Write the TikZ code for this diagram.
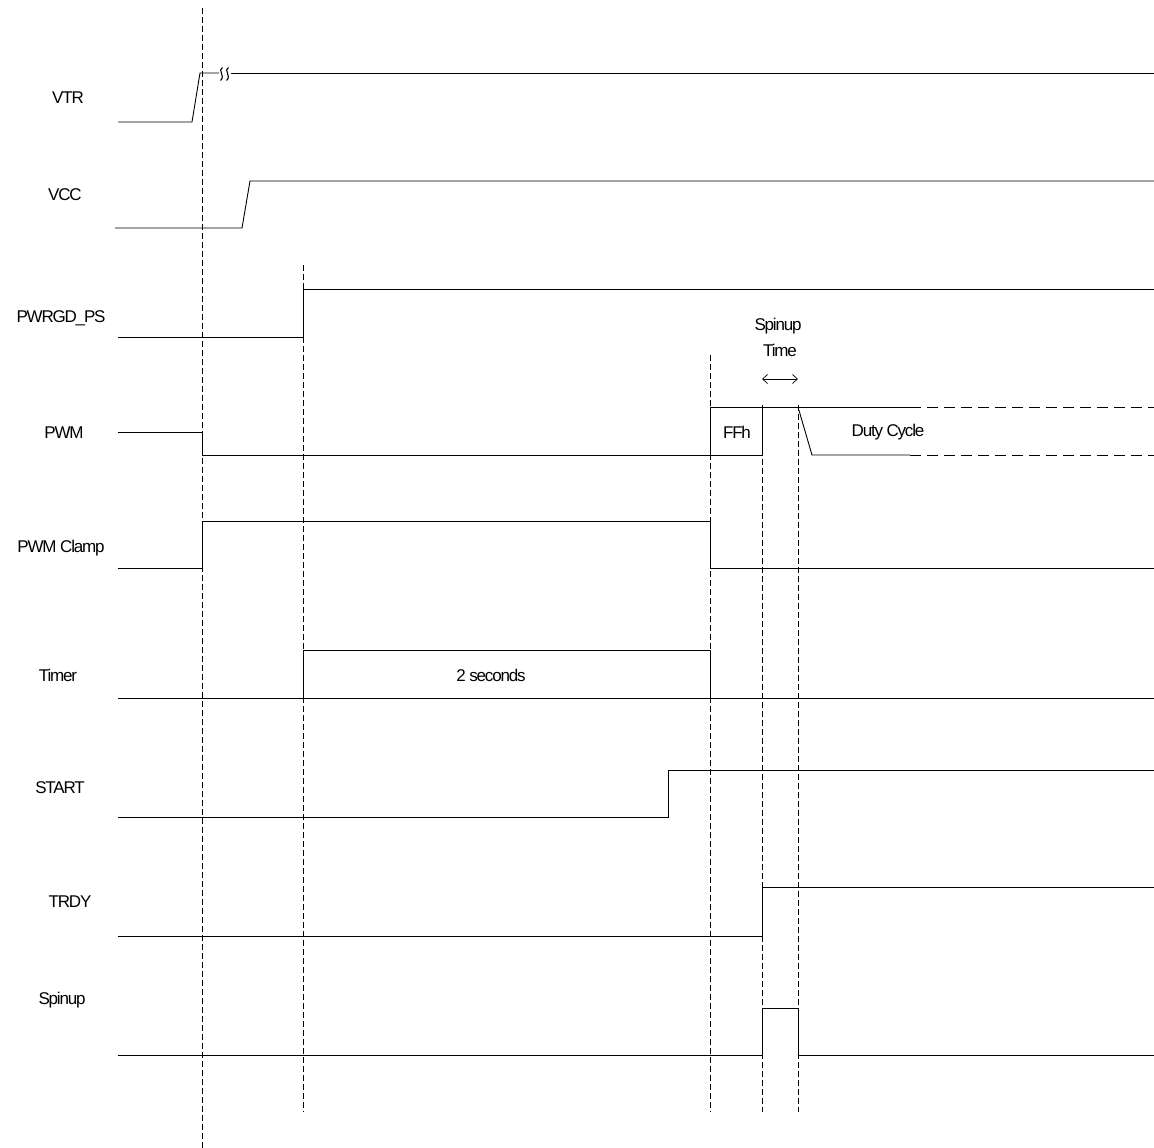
\documentclass[tikz,border=0pt]{standalone}
\usepackage{fontspec}
\setmainfont{Liberation Sans}[LetterSpace=-7]
\usetikzlibrary{arrows.meta}
\begin{document}
\begin{tikzpicture}[x=1pt,y=-1pt,
  sig/.style={line width=0.9pt,black},
  guide/.style={line width=0.7pt,black,dash pattern=on 6pt off 3pt},
  dashsig/.style={line width=0.9pt,black,dash pattern=on 11pt off 6pt},
  lbl/.style={font=\fontsize{17}{19}\selectfont,inner sep=0pt},
  ann/.style={font=\fontsize{17}{19}\selectfont,inner sep=0pt}]
\useasboundingbox (0,0) rectangle (1154,1148);
% guides
\draw[guide] (202,8) -- (202,1148);
\draw[guide] (303,265) -- (303,1112);
\draw[guide] (710,355) -- (710,1112);
\draw[guide] (762,405) -- (762,1112);
\draw[guide] (798,405) -- (798,1112);
% labels
\node[lbl] (lVTR) at (68,98) {VTR};
\node[lbl] (lVCC) at (65,195) {VCC};
\node[lbl] (lPWRGD) at (61,318) {PWRGD\_PS};
\node[lbl] (lPWM) at (64,433) {PWM};
\node[lbl] (lClamp) at (61,548) {PWM Clamp};
\node[lbl] (lTimer) at (58,675) {Timer};
\node[lbl] (lSTART) at (60,788) {START};
\node[lbl] (lTRDY) at (70,902) {TRDY};
\node[lbl] (lSpinup) at (62,1000) {Spinup};
% VTR
\draw[sig] (118,122) -- (192,122) -- (200,73) -- (219,73);
\draw[sig] (231,73) -- (1154,73);
\foreach \sx in {221,227}{
  \draw[sig,line width=1.1pt] (\sx+1.5,67.5) .. controls (\sx-4,70) and (\sx+5,76) .. (\sx-0.5,80.5);
}
% VCC
\draw[sig] (115,228) -- (242,228) -- (250,181) -- (1154,181);
% PWRGD_PS
\draw[sig] (118,337) -- (303,337) -- (303,289) -- (1154,289);
% PWM
\draw[sig] (118,432) -- (202,432) -- (202,455) -- (710,455) -- (710,407) -- (910,407);
\draw[sig] (710,455) -- (762,455) -- (762,407);
\draw[sig] (798,407) -- (812,455) -- (910,455);
\draw[dashsig] (910,407) -- (1154,407);
\draw[dashsig] (910,455) -- (1154,455);
\node[ann] (ffh) at (737,432) {FFh};
\node[ann] (duty) at (888,432) {Duty Cycle};
\node[ann] (sp1) at (778,326) {Spinup};
\node[ann] (sp2) at (780,350) {Time};
\coordinate (sa) at (762,379);
\coordinate (sb) at (798,379);
\draw[line width=0.7pt,{Straight Barb[length=5pt,width=9pt]}-{Straight Barb[length=5pt,width=9pt]}] (sa) -- (sb);
% PWM Clamp
\draw[sig] (118,568) -- (202,568) -- (202,521) -- (710,521) -- (710,568) -- (1154,568);
% Timer
\draw[sig] (118,698) -- (1154,698);
\draw[sig] (303,698) -- (303,650) -- (710,650) -- (710,698);
\node[ann] (two) at (491,675) {2 seconds};
% START
\draw[sig] (118,817) -- (668,817) -- (668,770) -- (1154,770);
% TRDY
\draw[sig] (118,936) -- (762,936) -- (762,887) -- (1154,887);
% Spinup
\draw[sig] (118,1055) -- (762,1055) -- (762,1008) -- (798,1008) -- (798,1055) -- (1154,1055);
\end{tikzpicture}
\end{document}
